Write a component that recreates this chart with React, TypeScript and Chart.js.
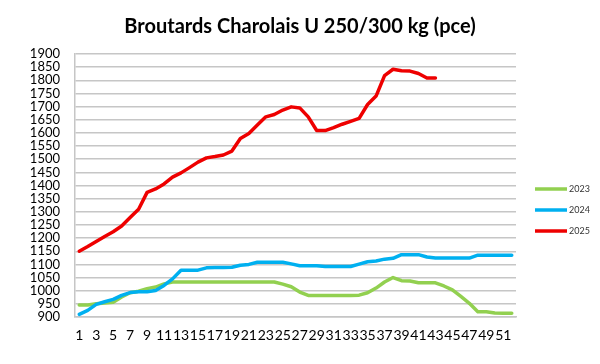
import React, { useEffect, useRef } from "react";
import { Chart, registerables } from "chart.js";

Chart.register(...registerables);

const TITLE = "Broutards Charolais U 250/300 kg (pce)";

const WEEKS = [
  "1", "2", "3", "4", "5", "6", "7", "8", "9", "10",
  "11", "12", "13", "14", "15", "16", "17", "18", "19", "20",
  "21", "22", "23", "24", "25", "26", "27", "28", "29", "30",
  "31", "32", "33", "34", "35", "36", "37", "38", "39", "40",
  "41", "42", "43", "44", "45", "46", "47", "48", "49", "50",
  "51", "52",
];

const SERIES_NAMES = ["2023", "2024", "2025"];
const SERIES_COLORS = ["#92d050", "#00b0f0", "#ee0000"];

const PRICES_2023 = [
  946, 946, 950, 953, 956, 976, 992, 998, 1008, 1014,
  1026, 1033, 1033, 1033, 1033, 1033, 1033, 1033, 1033, 1033,
  1033, 1033, 1033, 1033, 1025, 1015, 995, 982, 982, 982,
  982, 982, 982, 983, 992, 1010, 1033, 1050, 1038, 1037,
  1030, 1030, 1030, 1018, 1003, 978, 952, 920, 920, 915,
  914, 914,
];

const PRICES_2024 = [
  910, 925, 948, 958, 967, 982, 993, 996, 996, 1001,
  1020, 1045, 1078, 1078, 1078, 1087, 1088, 1088, 1089, 1097,
  1100, 1108, 1108, 1108, 1108, 1102, 1095, 1095, 1095, 1092,
  1092, 1092, 1092, 1101, 1110, 1113, 1120, 1123, 1137, 1137,
  1137, 1128, 1124, 1124, 1124, 1124, 1124, 1135, 1135, 1135,
  1135, 1135,
];

const PRICES_2025 = [
  1150, 1168, 1187, 1206, 1224, 1246, 1278, 1310, 1374, 1387,
  1406, 1432, 1448, 1468, 1489, 1505, 1510, 1516, 1531, 1579,
  1598, 1630, 1661, 1670, 1687, 1699, 1695, 1661, 1609, 1609,
  1620, 1633, 1644, 1655, 1708, 1740, 1818, 1842, 1836, 1835,
  1826, 1809, 1809,
];

const Y_MIN = 900;
const Y_MAX = 1900;
const Y_STEP = 50;

const titleAndLegend = {
  id: "titleAndLegend",
  afterDraw(chart: any) {
    const ctx = chart.ctx;
    const area = chart.chartArea;
    ctx.save();
    ctx.fillStyle = "#000";
    ctx.font = "bold 20px Lato";
    ctx.textAlign = "center";
    ctx.textBaseline = "middle";
    ctx.fillText(TITLE, chart.width / 2, 27);

    chart.data.datasets.forEach((ds: any, i: number) => {
      const y = area.top + 135 + i * 21;
      const x0 = area.right + 19;
      ctx.strokeStyle = ds.borderColor;
      ctx.lineWidth = 3.5;
      ctx.beginPath();
      ctx.moveTo(x0, y);
      ctx.lineTo(x0 + 32, y);
      ctx.stroke();
      ctx.fillStyle = "#333";
      ctx.font = "9px Lato";
      ctx.textBaseline = "middle";
      ctx.textAlign = "left";
      ctx.fillText(ds.label, x0 + 34, y);
    });
    ctx.restore();
  },
};

export default function App() {
  const ref = useRef<HTMLCanvasElement | null>(null);

  useEffect(() => {
    if (!ref.current) return;
    const series = [PRICES_2023, PRICES_2024, PRICES_2025];
    const chart = new Chart(ref.current, {
      type: "line",
      data: {
        labels: WEEKS,
        datasets: series.map((data, i) => ({
          label: SERIES_NAMES[i],
          data,
          borderColor: SERIES_COLORS[i],
          backgroundColor: SERIES_COLORS[i],
          borderWidth: 3.5,
          pointRadius: 0,
          tension: 0,
          fill: false,
          order: 3 - i,
          borderJoinStyle: "round" as const,
          borderCapStyle: "round" as const,
        })),
      },
      options: {
        responsive: false,
        animation: false,
        layout: { padding: { left: 0, right: 84, top: 54, bottom: 0 } },
        plugins: {
          legend: { display: false },
          tooltip: { enabled: false },
          title: { display: false },
        },
        scales: {
          x: {
            type: "category",
            offset: true,
            grid: { display: false, drawTicks: false },
            border: { display: true, color: "#c6c6c6", width: 1.5 },
            ticks: {
              autoSkip: false,
              maxRotation: 0,
              minRotation: 0,
              padding: 10,
              color: "#000",
              font: { family: "Lato", size: 14 },
              callback: (_v: any, i: number) => (i % 2 === 0 ? WEEKS[i] : ""),
            },
            afterFit: (s: any) => {
              s.height = 47;
            },
          },
          y: {
            min: Y_MIN,
            max: Y_MAX,
            grid: { color: "#c6c6c6", lineWidth: 1.5, drawTicks: false },
            border: { display: true, color: "#c6c6c6", width: 1.5 },
            ticks: {
              stepSize: Y_STEP,
              autoSkip: false,
              padding: 15,
              color: "#000",
              font: { family: "Lato", size: 13 },
              callback: (v: any) => String(v),
            },
            afterFit: (s: any) => {
              s.width = 75;
            },
          },
        },
      },
      plugins: [titleAndLegend],
    });
    return () => chart.destroy();
  }, []);

  return (
    <div style={{ position: "absolute", left: 0, top: 0, width: 600, height: 364, background: "#fff" }}>
      <canvas ref={ref} width={600} height={364} style={{ display: "block" }} />
    </div>
  );
}
